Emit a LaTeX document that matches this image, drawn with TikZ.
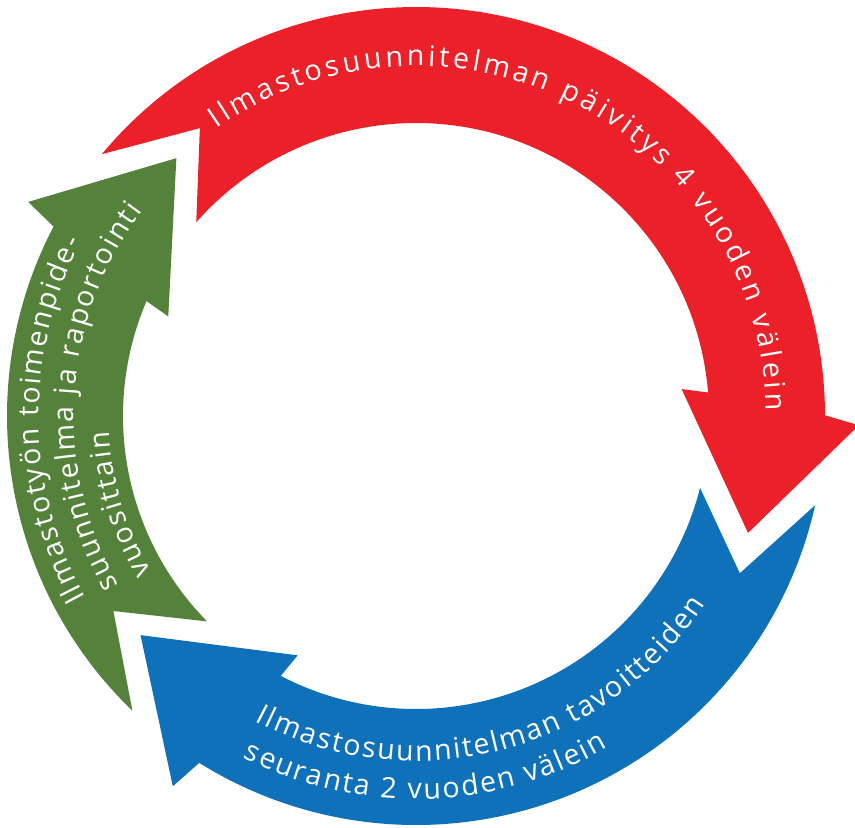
\documentclass[tikz,border=0pt]{standalone}
\usepackage{fontspec}
\setmainfont{Open Sans}
\newfontfamily\arcfont{Open Sans}
\usetikzlibrary{decorations.text}
\definecolor{cyclered}{RGB}{236,32,41}
\definecolor{cycleblue}{RGB}{14,113,185}
\definecolor{cyclegreen}{RGB}{84,130,59}
\newcommand{\Rout}{409}
\newcommand{\Rin}{293}
\newcommand{\arcsize}{\arcfont\fontsize{14.25}{17}\selectfont}
% #1 colour, #2 angle of the tip, #3 span back to the tail
\newcommand{\cyclearrow}[3]{%
  \fill[#1] (#2+#3:\Rout) arc[start angle=#2+#3, end angle=#2+19.5, radius=\Rout]
    -- (#2+18.2:443) -- (#2:352) -- (#2+25.2:267) -- (#2+24:\Rin)
    arc[start angle=#2+24, end angle=#2+#3-1.6, radius=\Rin]
    -- (#2+#3-13.3:360) -- cycle;}
\tikzset{
  arctext/.style 2 args={decorate, decoration={text effects along path,
    text={#2}, text align=left,
    text effects/.cd,
      character widths={inner xsep=#1, font=\arcsize},
      characters={text=white, font=\arcsize, inner xsep=#1, inner ysep=0pt,
        anchor=base, transform shape}}}
}
\begin{document}
\begin{tikzpicture}[x=0.5pt, y=0.5pt]
  \useasboundingbox (-416,-411) rectangle (439,416);
  % the three arrows of the cycle
  \cyclearrow{cyclered}{-19.4}{159.6}
  \cyclearrow{cycleblue}{-141.5}{128.9}
  \cyclearrow{cyclegreen}{132.9}{93.2}
  % red
  \path[arctext={0.875pt}{Ilmastosuunnitelman päivitys 4 vuoden välein}]
    (125:350) arc[start angle=125, end angle=-15, radius=350];
  % blue
  \path[arctext={0.5pt}{Ilmastosuunnitelman tavoitteiden}]
    (242:345) arc[start angle=242, end angle=350, radius=345];
  \path[arctext={0.5pt}{seuranta 2 vuoden välein}]
    (243:383) arc[start angle=243, end angle=350, radius=383];
  % green
  \path[arctext={0.5pt}{Ilmastotyön toimenpide-}]
    (209:377) arc[start angle=209, end angle=120, radius=377];
  \path[arctext={0.5pt}{suunnitelma ja raportointi}]
    (209.8:342) arc[start angle=209.8, end angle=120, radius=342];
  \path[arctext={0.5pt}{vuosittain}]
    (210.7:307) arc[start angle=210.7, end angle=120, radius=307];
\end{tikzpicture}
\end{document}
